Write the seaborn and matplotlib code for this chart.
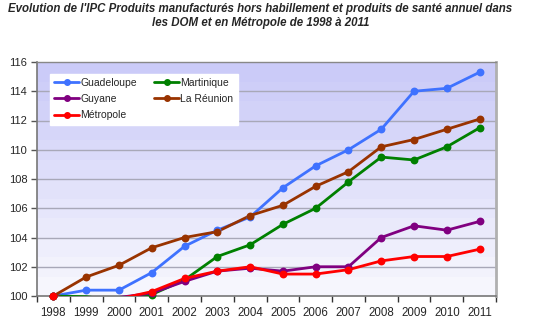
import numpy as np
import pandas as pd
import matplotlib
matplotlib.use("Agg")
import matplotlib.pyplot as plt
import seaborn as sns
from matplotlib.colors import LinearSegmentedColormap
from matplotlib.lines import Line2D

years = ["1998", "1999", "2000", "2001", "2002", "2003", "2004",
         "2005", "2006", "2007", "2008", "2009", "2010", "2011"]
guadeloupe = [100.0, 100.4, 100.4, 101.6, 103.4, 104.5, 105.4, 107.4, 108.9, 110.0, 111.4, 114.0, 114.2, 115.3]
martinique = [100.0, 99.95, 99.7, 100.1, 101.1, 102.7, 103.5, 104.9, 106.0, 107.8, 109.5, 109.3, 110.2, 111.5]
guyane = [100.0, 99.6, 99.9, 100.2, 101.0, 101.7, 101.9, 101.7, 102.0, 102.0, 104.0, 104.8, 104.5, 105.1]
reunion = [100.0, 101.3, 102.1, 103.3, 104.0, 104.4, 105.5, 106.2, 107.5, 108.5, 110.2, 110.7, 111.4, 112.1]
metropole = [100.0, 99.6, 99.8, 100.3, 101.2, 101.7, 102.0, 101.5, 101.5, 101.8, 102.4, 102.7, 102.7, 103.2]

series_names = ["Guadeloupe", "Martinique", "Guyane", "La Réunion", "Métropole"]
series_vals = [guadeloupe, martinique, guyane, reunion, metropole]
colors = {"Guadeloupe": "#3f72ff", "Martinique": "#008000", "Guyane": "#800080",
          "La Réunion": "#993300", "Métropole": "#ff0000"}
title = ("Evolution de l'IPC Produits manufacturés hors habillement et produits de santé annuel dans\n"
         "les DOM et en Métropole de 1998 à 2011")

rows = []
for name, vals in zip(series_names, series_vals):
    for i, (y, v) in enumerate(zip(years, vals)):
        rows.append({"pos": i, "year": y, "serie": name, "val": v})
df = pd.DataFrame(rows)

sns.set_theme(style="white")
plt.rcParams["font.family"] = ["Liberation Sans", "DejaVu Sans"]

fig = plt.figure(figsize=(5.35, 3.34), dpi=100)
ax = fig.add_axes([37/535, 1-296/334, (496-37)/535, (296-62)/334])

# gradient background (banded): light at bottom, lavender at top
nb = 12
grad = np.linspace(0, 1, nb).reshape(-1, 1)
cmap = LinearSegmentedColormap.from_list("bg", ["#f6f6fd", "#cbcbf8"])
ax.imshow(grad, extent=[-0.5, len(years)-0.5, 100, 116], aspect="auto",
          cmap=cmap, origin="lower", zorder=0, interpolation="nearest")

for v in range(102, 116, 2):
    ax.axhline(v, color="#a8a8b8", lw=1.0, zorder=1)

for name in series_names:
    sub = df[df.serie == name]
    sns.lineplot(data=sub, x="pos", y="val", color=colors[name], lw=2.0,
                 ax=ax, zorder=3, legend=False)
    vis = sub[sub.val >= 100]
    sns.scatterplot(data=vis, x="pos", y="val", color=colors[name], s=32,
                    edgecolor=colors[name], linewidth=0, ax=ax, zorder=4, legend=False)
for coll in ax.collections:
    coll.set_clip_on(False)

ax.set_xlim(-0.5, len(years)-0.5)
ax.set_ylim(100, 116)
ax.set_yticks(range(100, 117, 2))
ax.set_yticklabels([str(v) for v in range(100, 117, 2)], fontsize=8)
ax.set_xticks(range(len(years)))
ax.set_xticklabels(years, fontsize=8.3)
ax.set_xticks(np.arange(-0.5, len(years), 1), minor=True)
ax.tick_params(axis="x", which="major", length=0, pad=8)
ax.tick_params(axis="x", which="minor", length=4, width=1, color="#333333", direction="out", bottom=True)
ax.tick_params(axis="y", length=4, width=1, color="#555555", direction="out", left=True, pad=3)
ax.set_xlabel("")
ax.set_ylabel("")

for s in ["left", "bottom"]:
    ax.spines[s].set_color("#777777")
    ax.spines[s].set_linewidth(1.2)
ax.spines["top"].set_color("#888888")
ax.spines["top"].set_linewidth(1)
ax.spines["right"].set_color("#b0b0b0")
ax.spines["right"].set_linewidth(2)

order = ["Guadeloupe", "Guyane", "Métropole", "Martinique", "La Réunion"]
handles = [Line2D([0], [0], color=colors[n], lw=2, marker="o", markersize=4) for n in order]
leg = ax.legend(handles, order, ncol=2, loc="upper left", bbox_to_anchor=(0.028, 0.95),
                frameon=True, fancybox=False, fontsize=7.5, handlelength=2.4,
                handletextpad=0.1, columnspacing=1.7, labelspacing=0.6,
                borderpad=0.4, borderaxespad=0)
leg.get_frame().set_facecolor("white")
leg.get_frame().set_edgecolor("white")
leg.get_frame().set_alpha(1)
leg.set_zorder(5)

fig.text(0.487, 0.992, title, ha="center", va="top", fontsize=8.3,
         fontweight="bold", fontstyle="italic", linespacing=1.25)

fig.savefig("out.png", dpi=100, facecolor="white")
